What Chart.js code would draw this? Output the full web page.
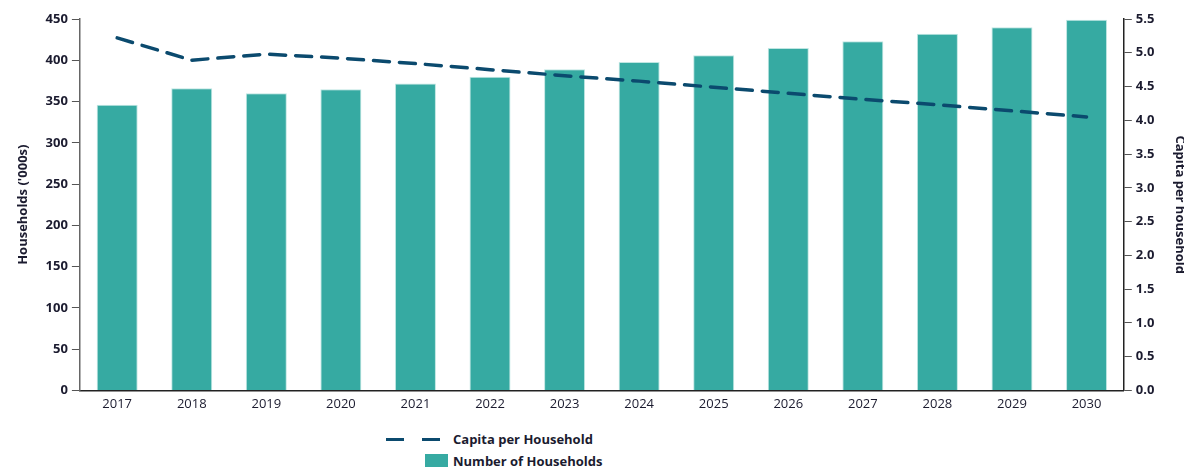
<!DOCTYPE html>
<html>
<head>
<meta charset="utf-8">
<script src="https://cdn.jsdelivr.net/npm/chart.js@4"></script>
<style>
  body { margin: 0; overflow: hidden; background: #fff; width: 1184px; height: 467px; }
  #wrap { position: absolute; left: 0; top: 0; width: 1202px; height: 420px; }
  #legend { position: absolute; left: 386px; top: 428px; font-family: "Open Sans", sans-serif; font-weight: bold; font-size: 13px; color: #1b1b2f; }
  .row { height: 22px; display: flex; align-items: center; }
  .dash { display: inline-block; width: 18px; height: 3px; background: #0b4a6e; margin-right: 18px; }
  .box { display: inline-block; width: 23px; height: 14px; background: #36aaa2; margin-left: 39px; margin-right: 5px; }
</style>
</head>
<body>
<div id="wrap"><canvas id="chart"></canvas></div>
<div id="legend">
  <div class="row"><span class="dash"></span><span class="dash" style="margin-right:13px"></span>Capita per Household</div>
  <div class="row"><span class="box"></span>Number of Households</div>
</div>
<script>
var years = ['2017', '2018', '2019', '2020', '2021', '2022', '2023', '2024', '2025', '2026', '2027', '2028', '2029', '2030'];
var households = [346, 366, 360, 365, 372, 380, 389, 398, 406, 415, 423, 432, 440, 449];
var capitaPerHousehold = [5.22, 4.89, 4.98, 4.92, 4.84, 4.75, 4.66, 4.58, 4.49, 4.40, 4.31, 4.23, 4.14, 4.05];

var font = 'Open Sans';
var ink = '#1b1b2f';

var ctx = document.getElementById('chart').getContext('2d');
var chart = new Chart(ctx, {
    type: 'bar',
    data: {
        labels: years,
        datasets: [{
            type: 'line',
            label: 'Capita per Household',
            data: capitaPerHousehold,
            yAxisID: 'y2',
            borderColor: '#0b4a6e',
            borderWidth: 3.5,
            borderDash: [16, 10],
            borderCapStyle: 'round',
            pointRadius: 0,
            fill: false,
            tension: 0
        }, {
            label: 'Number of Households',
            data: households,
            yAxisID: 'y',
            backgroundColor: '#36aaa2',
            borderColor: '#bfe6e2',
            borderWidth: { top: 1, left: 1, right: 1, bottom: 0 },
            barPercentage: 0.55,
            categoryPercentage: 1
        }]
    },
    options: {
        responsive: true,
        maintainAspectRatio: false,
        animation: false,
        layout: { padding: { left: 4, right: 0, top: 19, bottom: 2 } },
        plugins: {
            legend: { display: false },
            tooltip: { enabled: false }
        },
        scales: {
            x: {
                offset: true,
                grid: { display: false, drawTicks: false },
                border: { color: '#222', width: 1.5 },
                ticks: { color: ink, font: { family: font, size: 13 }, padding: 6 }
            },
            y: {
                position: 'left',
                min: 0,
                max: 450,
                ticks: { stepSize: 50, color: ink, font: { family: font, size: 13, weight: 'bold' }, padding: 4 },
                grid: { drawOnChartArea: false, tickLength: 8, color: '#555' },
                border: { color: '#666', width: 1.5 },
                title: { display: true, text: "Households ('000s)", color: ink, font: { family: font, size: 13, weight: 'bold' }, padding: 11 }
            },
            y2: {
                position: 'right',
                min: 0,
                max: 5.5,
                ticks: {
                    stepSize: 0.5,
                    color: ink,
                    font: { family: font, size: 13, weight: 'bold' },
                    padding: 4,
                    callback: function (v) { return v.toFixed(1); }
                },
                grid: { drawOnChartArea: false, tickLength: 8, color: '#555' },
                border: { color: '#222', width: 1.5 },
                title: { display: true, text: 'Capita per household', color: ink, font: { family: font, size: 13, weight: 'bold' }, padding: 14 }
            }
        }
    }
});
</script>
</body>
</html>
